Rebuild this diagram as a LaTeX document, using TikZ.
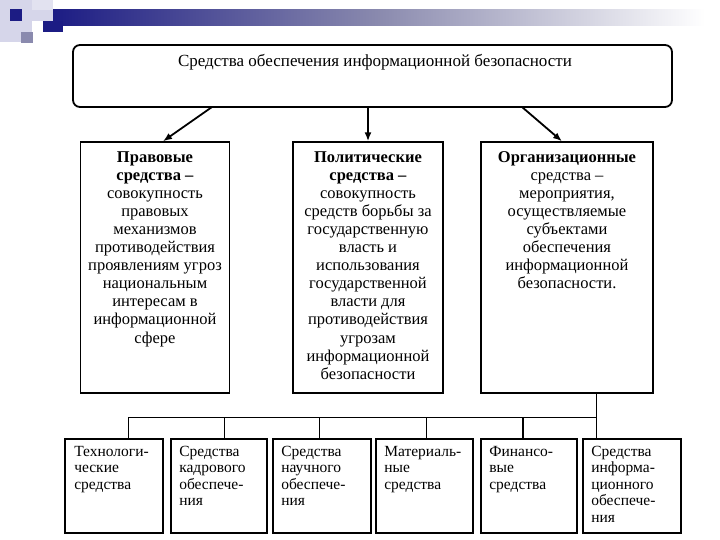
\documentclass[tikz,border=0pt]{standalone}
\usepackage{fontspec}
\setmainfont{Liberation Serif}
\usetikzlibrary{arrows.meta,positioning}
\definecolor{navy}{HTML}{1C1C84}
\definecolor{slate}{HTML}{8A8AAE}
\definecolor{lav}{HTML}{D6D6EA}
\tikzset{
  topbox/.style={draw, line width=1.8pt, rounded corners=7pt, minimum width=599pt, minimum height=62pt, inner sep=0pt},
  midbox/.style={draw, line width=1.4pt, minimum height=251pt, inner sep=0pt},
  midtext/.style={align=center, inner sep=0pt, font=\fontsize{16.5}{18.1}\selectfont},
  botbox/.style={draw, line width=1.8pt, minimum width=97pt, minimum height=94pt, inner sep=0pt},
  bottext/.style={align=left, inner sep=0pt, anchor=north west, font=\fontsize{15.5}{16.4}\selectfont},
  arr/.style={line width=1.8pt, -{Latex[length=9pt,width=7pt]}},
  conn/.style={line width=1pt}
}
\begin{document}
\begin{tikzpicture}[x=1pt,y=-1pt]
\useasboundingbox (0,0) rectangle (720,540);
\fill[white] (0,0) rectangle (720,540);
% header decoration
\shade[left color=navy, right color=white, middle color=slate, shading angle=90] (52,10) rectangle (705,26);
\fill[lav] (0,0) rectangle (32,42);
\fill[lav!70] (32,0) rectangle (53,10);
\fill[lav] (32,10) rectangle (53,21);
\fill[navy] (10,9) rectangle (22,21);
\fill[navy] (43,21) rectangle (63,32);
\fill[slate] (21,32) rectangle (33,43);
% top box
\node[topbox] (top) at (372.5,76) {};
\node[font=\fontsize{17}{19}\selectfont, anchor=base] (title) at (375,67) {Средства обеспечения информационной безопасности};
% middle boxes
\node[midbox, minimum width=149pt] (b1) at (155,267.5) {};
\node[midbox, minimum width=150pt] (b2) at (368,267.5) {};
\node[midbox, minimum width=172pt] (b3) at (567,267.5) {};
\node[midtext, anchor=north] (t1) at (155,151) {\textbf{Правовые}\\\textbf{средства –}\\совокупность\\правовых\\механизмов\\противодействия\\проявлениям угроз\\национальным\\интересам в\\информационной\\сфере};
\node[midtext, anchor=north] (t2) at (368,151) {\textbf{Политические}\\\textbf{средства –}\\совокупность\\средств борьбы за\\государственную\\власть и\\использования\\государственной\\власти для\\противодействия\\угрозам\\информационной\\безопасности};
\node[midtext, anchor=north] (t3) at (567,151) {\textbf{Организационные}\\средства –\\мероприятия,\\осуществляемые\\субъектами\\обеспечения\\информационной\\безопасности.};
% arrows
\coordinate (a1s) at (212,107);
\coordinate (a3s) at (522,107);
\draw[arr] (a1s) -- (b1.north -| 163,0);
\draw[arr] (top.south -| b2.north) -- (b2.north);
\draw[arr] (a3s) -- (b3.north -| 562,0);
% bottom boxes
\node[botbox, minimum width=98pt] (c1) at (114,486) {};
\node[botbox, minimum width=96pt] (c2) at (219,486) {};
\node[botbox, minimum width=98pt] (c3) at (322,486) {};
\node[botbox, minimum width=97pt] (c4) at (424.5,486) {};
\node[botbox, minimum width=96pt] (c5) at (529,486) {};
\node[botbox, minimum width=98pt] (c6) at (632,486) {};
\node[bottext] (d1) at ([xshift=10pt,yshift=-8pt]c1.north west) {Технологи-\\ческие\\средства};
\node[bottext] (d2) at ([xshift=9pt,yshift=-8pt]c2.north west) {Средства\\кадрового\\обеспече-\\ния};
\node[bottext] (d3) at ([xshift=9pt,yshift=-8pt]c3.north west) {Средства\\научного\\обеспече-\\ния};
\node[bottext] (d4) at ([xshift=9pt,yshift=-8pt]c4.north west) {Материаль-\\ные\\средства};
\node[bottext] (d5) at ([xshift=9pt,yshift=-8pt]c5.north west) {Финансо-\\вые\\средства};
\node[bottext] (d6) at ([xshift=9pt,yshift=-8pt]c6.north west) {Средства\\информа-\\ционного\\обеспече-\\ния};
% connectors
\coordinate (h1) at (128,417);
\coordinate (h6) at (596,417);
\draw[conn] (b3.south -| h6) -- (c6.north -| h6);
\draw[conn] (h1) -- (h6);
\draw[conn] (h1) -- (c1.north -| h1);
\draw[conn] (224,417) -- (c2.north -| 224,0);
\draw[conn] (319,417) -- (c3.north -| 319,0);
\draw[conn] (426,417) -- (c4.north -| 426,0);
\draw[conn, line width=1.6pt] (523,417) -- (c5.north -| 523,0);
\end{tikzpicture}
\end{document}
